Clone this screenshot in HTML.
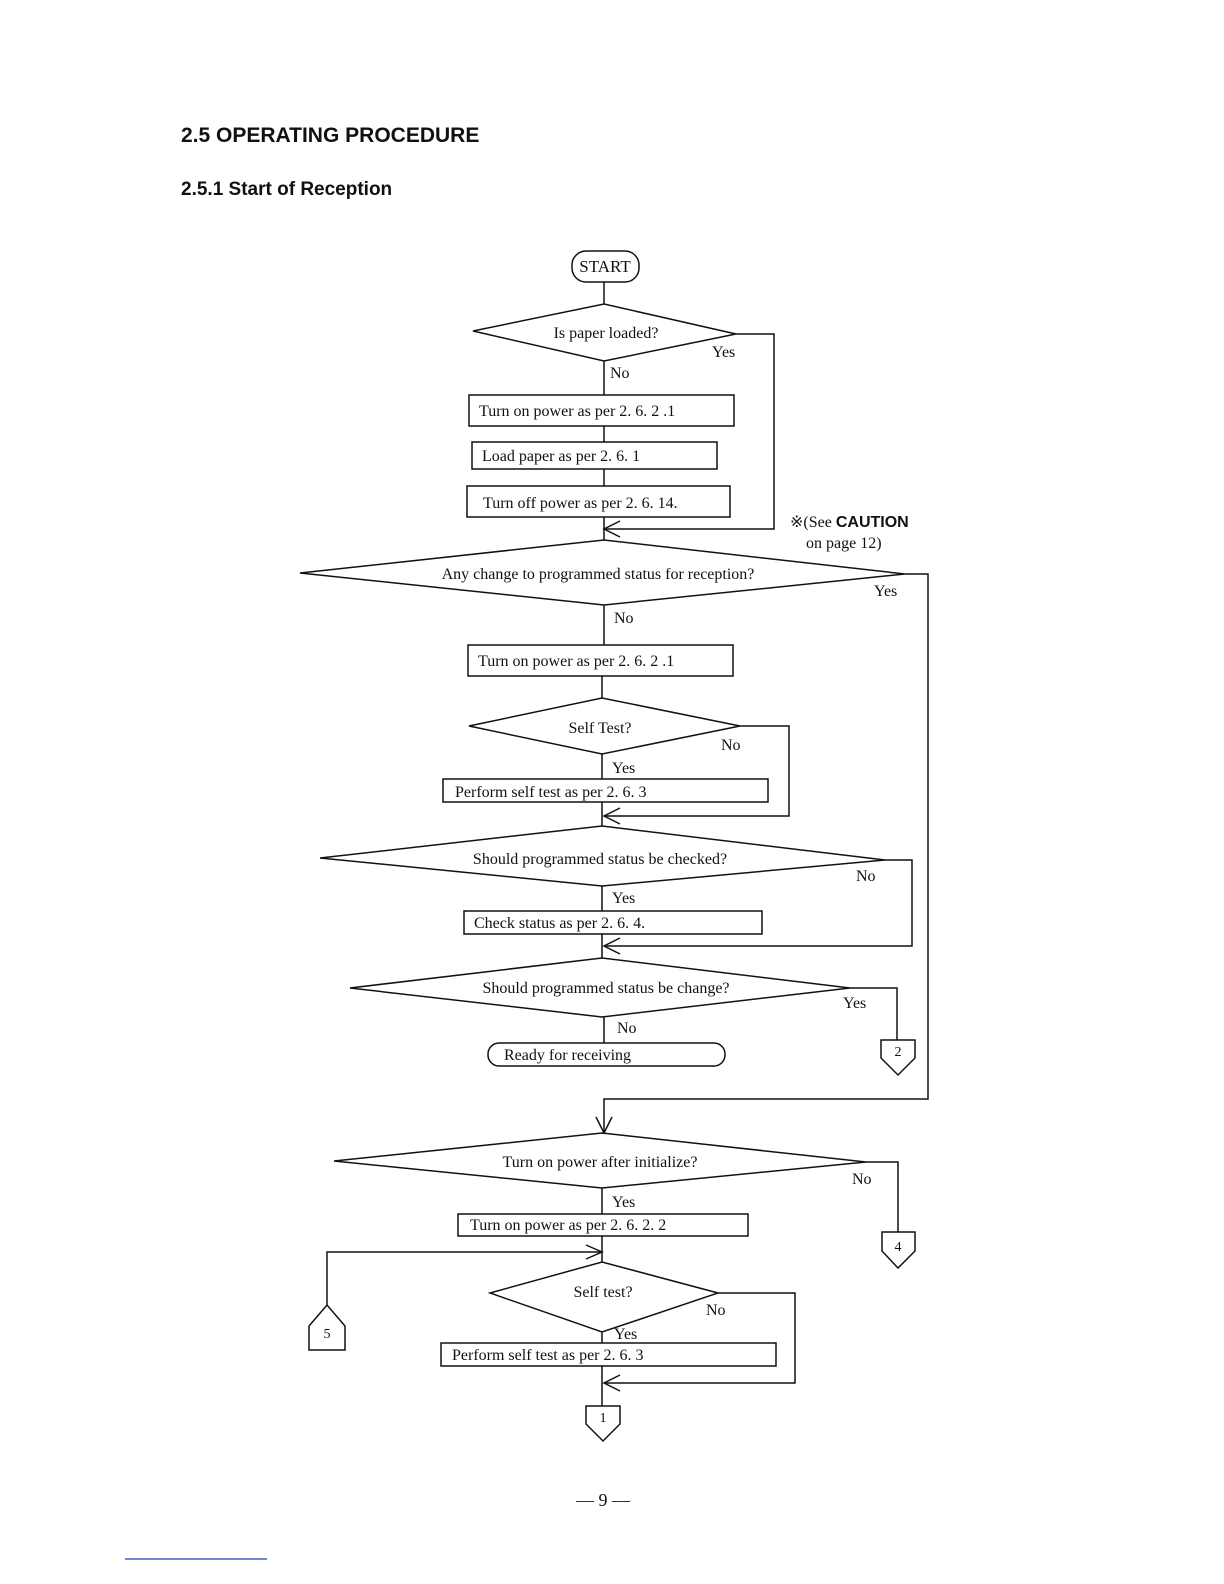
<!DOCTYPE html>
<html><head><meta charset="utf-8"><style>
html,body{margin:0;padding:0;background:#fff;}
svg{display:block;}
.t{font-family:"Liberation Serif",serif;font-size:16px;fill:#111;}
.h{font-family:"Liberation Sans",sans-serif;font-weight:bold;fill:#111;}
</style></head><body>
<svg width="1224" height="1584" viewBox="0 0 1224 1584" xmlns="http://www.w3.org/2000/svg">
<rect width="1224" height="1584" fill="#fff"/>
<text x="181" y="142" class="h" font-size="21">2.5  OPERATING PROCEDURE</text>
<text x="181" y="195" class="h" font-size="19">2.5.1  Start of Reception</text>
<g fill="none" stroke="#111" stroke-width="1.5">
<!-- start -->
<rect x="572" y="251" width="67" height="31" rx="14"/>
<line x1="604" y1="282" x2="604" y2="304"/>
<polygon points="473,331 604,304 736,334 604,361"/>
<polyline points="736,334 774,334 774,529 604,529"/>
<polyline points="620,521 604,529 620,537"/>
<line x1="604" y1="361" x2="604" y2="395"/>
<rect x="469" y="395" width="265" height="31"/>
<line x1="604" y1="426" x2="604" y2="442"/>
<rect x="472" y="442" width="245" height="27"/>
<line x1="604" y1="469" x2="604" y2="486"/>
<rect x="467" y="486" width="263" height="31"/>
<line x1="604" y1="517" x2="604" y2="540"/>
<polygon points="300,573 604,540 905,574 604,605"/>
<polyline points="905,574 928,574 928,1099 604,1099 604,1133"/>
<polyline points="596,1117 604,1133 612,1117"/>
<line x1="604" y1="605" x2="604" y2="645"/>
<rect x="468" y="645" width="265" height="31"/>
<line x1="602" y1="676" x2="602" y2="698"/>
<polygon points="469,726 602,698 740,726 602,754"/>
<polyline points="740,726 789,726 789,816 604,816"/>
<polyline points="620,808 604,816 620,824"/>
<line x1="602" y1="754" x2="602" y2="779"/>
<rect x="443" y="779" width="325" height="23"/>
<line x1="602" y1="802" x2="602" y2="826"/>
<polygon points="320,858 602,826 885,860 602,886"/>
<polyline points="885,860 912,860 912,946 604,946"/>
<polyline points="620,938 604,946 620,954"/>
<line x1="602" y1="886" x2="602" y2="911"/>
<rect x="464" y="911" width="298" height="23"/>
<line x1="602" y1="934" x2="602" y2="958"/>
<polygon points="350,988 602,958 850,988 602,1017"/>
<polyline points="850,988 897,988 897,1040"/>
<polygon points="881,1040 915,1040 915,1058 898,1075 881,1058"/>
<line x1="604" y1="1017" x2="604" y2="1043"/>
<rect x="488" y="1043" width="237" height="23" rx="11"/>
<polygon points="334,1161 602,1133 866,1162 602,1188"/>
<polyline points="866,1162 898,1162 898,1232"/>
<polygon points="882,1232 915,1232 915,1251 898,1268 882,1251"/>
<line x1="602" y1="1188" x2="602" y2="1214"/>
<rect x="458" y="1214" width="290" height="22"/>
<line x1="602" y1="1236" x2="602" y2="1262"/>
<polyline points="327,1305 327,1252 602,1252"/>
<polyline points="586,1245 602,1252 586,1259"/>
<polygon points="309,1350 345,1350 345,1326 327,1305 309,1326"/>
<polygon points="490,1293 602,1262 718,1293 602,1332"/>
<polyline points="718,1293 795,1293 795,1383 604,1383"/>
<polyline points="620,1375 604,1383 620,1391"/>
<line x1="602" y1="1332" x2="602" y2="1343"/>
<rect x="441" y="1343" width="335" height="23"/>
<line x1="602" y1="1366" x2="602" y2="1406"/>
<polygon points="586,1406 620,1406 620,1424 603,1441 586,1424"/>
</g>
<line x1="125" y1="1559" x2="267" y2="1559" stroke="#36c" stroke-width="1.5"/>
<g class="t">
<text x="605" y="272" text-anchor="middle" font-size="17">START</text>
<text x="606" y="338" text-anchor="middle">Is paper loaded?</text>
<text x="712" y="357">Yes</text>
<text x="610" y="378">No</text>
<text x="479" y="416">Turn on power as per 2. 6. 2 .1</text>
<text x="482" y="461">Load paper as per 2. 6. 1</text>
<text x="483" y="508">Turn off power as per 2. 6. 14.</text>
<text x="790" y="527">※(See <tspan font-family="Liberation Sans,sans-serif" font-weight="bold">CAUTION</tspan></text>
<text x="806" y="548">on page 12)</text>
<text x="598" y="579" text-anchor="middle">Any change to programmed status for reception?</text>
<text x="874" y="596">Yes</text>
<text x="614" y="623">No</text>
<text x="478" y="666">Turn on power as per 2. 6. 2 .1</text>
<text x="600" y="733" text-anchor="middle">Self Test?</text>
<text x="721" y="750">No</text>
<text x="612" y="773">Yes</text>
<text x="455" y="797">Perform self test as per 2. 6. 3</text>
<text x="600" y="864" text-anchor="middle">Should programmed status be checked?</text>
<text x="856" y="881">No</text>
<text x="612" y="903">Yes</text>
<text x="474" y="928">Check status as per 2. 6. 4.</text>
<text x="606" y="993" text-anchor="middle">Should programmed status be change?</text>
<text x="843" y="1008">Yes</text>
<text x="617" y="1033">No</text>
<text x="504" y="1060">Ready for receiving</text>
<text x="898" y="1056" text-anchor="middle" font-size="14">2</text>
<text x="600" y="1167" text-anchor="middle">Turn on power after initialize?</text>
<text x="852" y="1184">No</text>
<text x="898" y="1251" text-anchor="middle" font-size="14">4</text>
<text x="612" y="1207">Yes</text>
<text x="470" y="1230">Turn on power as per 2. 6. 2. 2</text>
<text x="327" y="1338" text-anchor="middle" font-size="14">5</text>
<text x="603" y="1297" text-anchor="middle">Self test?</text>
<text x="706" y="1315">No</text>
<text x="614" y="1339">Yes</text>
<text x="452" y="1360">Perform self test as per 2. 6. 3</text>
<text x="603" y="1422" text-anchor="middle" font-size="14">1</text>
<text x="603" y="1506" text-anchor="middle" font-size="18">— 9 —</text>
</g>
</svg>
</body></html>
